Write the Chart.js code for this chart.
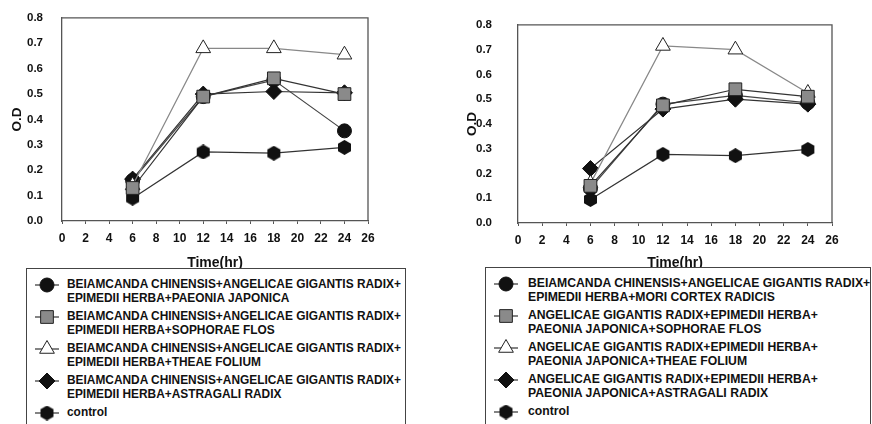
<!DOCTYPE html>
<html>
<head>
<meta charset="utf-8">
<script src="https://cdn.jsdelivr.net/npm/chart.js@4/dist/chart.umd.min.js"></script>
<style>
  html, body { margin: 0; padding: 0; background: #fff; }
  body { width: 872px; height: 424px; position: relative; overflow: hidden; font-family: "Liberation Sans", Arial, sans-serif; }
  .cv { position: absolute; top: 0; }
  .legend { position: absolute; background: #fff; border: 1px solid #444; box-sizing: border-box; z-index: 2; }
  .item { position: absolute; left: 0; right: 0; }
  .item canvas { position: absolute; left: 0; }
  .txt { position: absolute; font-weight: bold; line-height: 13.5px; color: #111; white-space: nowrap; }
</style>
</head>
<body>
<canvas id="c1" class="cv" width="436" height="272" style="left:0px"></canvas>
<canvas id="c2" class="cv" width="436" height="272" style="left:436px"></canvas>
<div id="leg1" class="legend" style="left:26px;top:268px;width:380px;height:170px;"></div>
<div id="leg2" class="legend" style="left:485px;top:267px;width:386px;height:170px;"></div>
<script>
// ---------- data ----------
const hours = [6, 12, 18, 24];
const xTicks = [0, 2, 4, 6, 8, 10, 12, 14, 16, 18, 20, 22, 24, 26];
const yTicks = [0.0, 0.1, 0.2, 0.3, 0.4, 0.5, 0.6, 0.7, 0.8];

const leftLabels = [
  ["BEIAMCANDA CHINENSIS+ANGELICAE GIGANTIS RADIX+", "EPIMEDII HERBA+PAEONIA JAPONICA"],
  ["BEIAMCANDA CHINENSIS+ANGELICAE GIGANTIS RADIX+", "EPIMEDII HERBA+SOPHORAE FLOS"],
  ["BEIAMCANDA CHINENSIS+ANGELICAE GIGANTIS RADIX+", "EPIMEDII HERBA+THEAE FOLIUM"],
  ["BEIAMCANDA CHINENSIS+ANGELICAE GIGANTIS RADIX+", "EPIMEDII HERBA+ASTRAGALI RADIX"],
  ["control"]
];
const leftPaeonia   = [0.16, 0.49, 0.555, 0.355];
const leftSophorae  = [0.13, 0.49, 0.562, 0.50];
const leftTheae     = [0.14, 0.68, 0.68, 0.655];
const leftAstragali = [0.165, 0.50, 0.51, 0.505];
const leftControl   = [0.09, 0.272, 0.267, 0.29];

const rightLabels = [
  ["BEIAMCANDA CHINENSIS+ANGELICAE GIGANTIS RADIX+", "EPIMEDII HERBA+MORI CORTEX RADICIS"],
  ["ANGELICAE GIGANTIS RADIX+EPIMEDII HERBA+", "PAEONIA JAPONICA+SOPHORAE FLOS"],
  ["ANGELICAE GIGANTIS RADIX+EPIMEDII HERBA+", "PAEONIA JAPONICA+THEAE FOLIUM"],
  ["ANGELICAE GIGANTIS RADIX+EPIMEDII HERBA+", "PAEONIA JAPONICA+ASTRAGALI RADIX"],
  ["control"]
];
const rightMori      = [0.14, 0.48, 0.515, 0.485];
const rightSophorae  = [0.15, 0.475, 0.54, 0.51];
const rightTheae     = [0.16, 0.715, 0.70, 0.525];
const rightAstragali = [0.22, 0.46, 0.50, 0.48];
const rightControl   = [0.095, 0.277, 0.272, 0.297];

// ---------- styles ----------
function hexagon(d) {
  const c = document.createElement('canvas');
  c.width = d; c.height = d;
  const g = c.getContext('2d');
  g.fillStyle = '#111';
  g.beginPath();
  const r = d / 2;
  for (let i = 0; i < 6; i++) {
    const a = Math.PI / 6 + i * Math.PI / 3;
    const px = r + r * Math.cos(a), py = r + r * Math.sin(a);
    if (i === 0) g.moveTo(px, py); else g.lineTo(px, py);
  }
  g.closePath(); g.fill();
  return c;
}
const hex = hexagon(15);

const markerStyles = [
  { pointStyle: 'circle',   radius: 7,   bg: '#111', bd: '#111', line: '#444', order: 2 },
  { pointStyle: 'rect',     radius: 9,   bg: '#8a8a8a', bd: '#222', line: '#333', order: 0 },
  { pointStyle: 'triangle', radius: 8.5, bg: '#fff', bd: '#222', line: '#888', order: 1 },
  { pointStyle: 'rectRot',  radius: 8,   bg: '#111', bd: '#111', line: '#333', order: 3 },
  { pointStyle: hex,        radius: 7.5, bg: '#111', bd: '#111', line: '#333', order: 4 }
];

function makeDatasets(series, labels) {
  return series.map((vals, i) => {
    const s = markerStyles[i];
    return {
      label: labels[i].join(' '),
      data: hours.map((h, k) => ({ x: h, y: vals[k] })),
      borderColor: s.line,
      borderWidth: 1.2,
      backgroundColor: s.bg,
      pointStyle: s.pointStyle,
      pointRadius: s.radius,
      pointHoverRadius: s.radius,
      pointBackgroundColor: s.bg,
      pointBorderColor: s.bd,
      pointBorderWidth: 1,
      tension: 0,
      fill: false,
      order: s.order
    };
  });
}

const frame = {
  id: 'frame',
  afterDraw(chart) {
    const { ctx, chartArea: a } = chart;
    ctx.save();
    ctx.strokeStyle = '#555';
    ctx.lineWidth = 1.3;
    ctx.beginPath();
    ctx.moveTo(a.left, a.top);
    ctx.lineTo(a.right, a.top);
    ctx.lineTo(a.right, a.bottom);
    ctx.stroke();
    ctx.restore();
  }
};

function makeChart(id, datasets, geo) {
  return new Chart(document.getElementById(id), {
    type: 'line',
    data: { datasets },
    plugins: [frame],
    options: {
      responsive: false,
      animation: false,
      devicePixelRatio: 1,
      layout: { padding: { top: geo.top, right: geo.right, left: 0, bottom: 0 } },
      plugins: { legend: { display: false }, tooltip: { enabled: false } },
      scales: {
        x: {
          type: 'linear', min: 0, max: 26,
          afterBuildTicks: s => { s.ticks = xTicks.map(v => ({ value: v })); },
          afterFit: s => { s.height = geo.xHeight; },
          grid: { display: true, drawOnChartArea: false, drawTicks: true, tickLength: 3, tickColor: '#555', lineWidth: 1 },
          border: { display: true, color: '#555', width: 1.3 },
          ticks: { padding: 7, color: '#111', font: { family: 'Liberation Sans', size: 12, weight: 'bold' }, maxRotation: 0, autoSkip: false },
          title: { display: true, text: 'Time(hr)', color: '#111', padding: { top: 0, bottom: geo.xTitlePad }, font: { family: 'Liberation Sans', size: 14, weight: 'bold' } }
        },
        y: {
          type: 'linear', min: 0, max: 0.8,
          afterBuildTicks: s => { s.ticks = yTicks.map(v => ({ value: v })); },
          afterFit: s => { s.width = geo.yWidth; },
          grid: { display: false },
          border: { display: true, color: '#555', width: 1.3 },
          ticks: { padding: geo.yTickPad, color: '#111', callback: v => v.toFixed(1), font: { family: 'Liberation Sans', size: 11.5, weight: 'bold' } },
          title: { display: true, text: 'O.D', color: '#111', padding: { top: geo.yTitlePad, bottom: 0 }, font: { family: 'Liberation Sans', size: 13.5, weight: 'bold' } }
        }
      }
    }
  });
}

makeChart('c1', makeDatasets([leftPaeonia, leftSophorae, leftTheae, leftAstragali, leftControl], leftLabels),
  { top: 17, right: 68, xHeight: 51, yWidth: 62, yTickPad: 11, yTitlePad: 9, xTitlePad: 0 });
makeChart('c2', makeDatasets([rightMori, rightSophorae, rightTheae, rightAstragali, rightControl], rightLabels),
  { top: 15, right: 40, xHeight: 49, yWidth: 82, yTickPad: 18, yTitlePad: 28, xTitlePad: 0 });

// ---------- HTML legends ----------
function buildLegend(id, labels, markerX, textX, fontSize) {
  const box = document.getElementById(id);
  labels.forEach((lines, i) => {
    const item = document.createElement('div');
    item.className = 'item';
    item.style.top = (9 + 32 * i) + 'px';
    const c = document.createElement('canvas');
    c.width = 26; c.height = 18;
    c.style.left = (markerX - 13) + 'px';
    c.style.top = '-2px';
    const g = c.getContext('2d');
    const s = markerStyles[i];
    g.strokeStyle = '#333'; g.lineWidth = 1.2;
    g.beginPath(); g.moveTo(1, 9); g.lineTo(25, 9); g.stroke();
    g.fillStyle = s.bg; g.strokeStyle = s.bd; g.lineWidth = 1;
    Chart.helpers.drawPoint(g, { pointStyle: s.pointStyle, radius: s.radius, rotation: 0, borderWidth: 1 }, 13, 9);
    item.appendChild(c);
    const t = document.createElement('div');
    t.className = 'txt';
    t.style.left = textX + 'px';
    t.style.top = '0px';
    t.style.fontSize = fontSize + 'px';
    t.innerHTML = lines.join('<br>');
    item.appendChild(t);
    box.appendChild(item);
  });
}
buildLegend('leg1', leftLabels, 20, 40, 11.9);
buildLegend('leg2', rightLabels, 20, 42, 12.2);
</script>
</body>
</html>
